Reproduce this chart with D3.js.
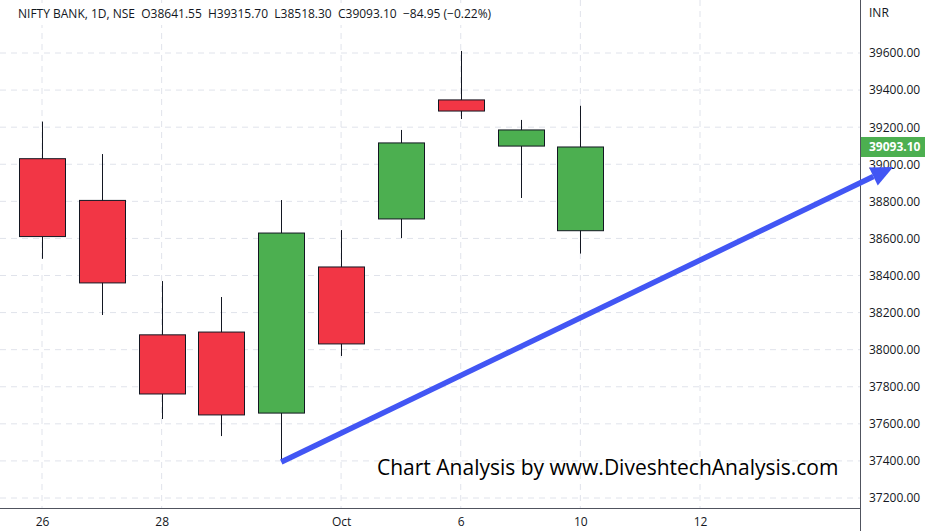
<!DOCTYPE html>
<html>
<head>
<meta charset="utf-8">
<script src="https://cdn.jsdelivr.net/npm/d3@7"></script>
<style>
  body { margin: 0; background: #fff; font-family: "Open Sans", Roboto, sans-serif; }
  svg text { font-family: "Open Sans", Roboto, sans-serif; }
</style>
</head>
<body>
<svg id="chart" width="938" height="531"></svg>
<script>
// candle data (index 0 = 26 Sep; Oct 5 skipped, so indexes are trading days)
var idx    = [0, 1, 2, 3, 4, 5, 6, 7, 8, 9];
var opens  = [39030, 38805, 38080, 38095, 37658, 38446, 38705, 39347, 39098, 38641.55];
var highs  = [39230, 39055, 38370, 38284, 38807, 38645, 39185, 39611, 39239, 39315.70];
var lows   = [38490, 38187, 37626, 37534, 37405, 37966, 38602, 39244, 38818, 38518.30];
var closes = [38610, 38360, 37761, 37648, 38629, 38031, 39115, 39287, 39185, 39093.10];

var tickIdx    = [0, 2, 5, 7, 9, 11];
var tickLabels = ["26", "28", "Oct", "6", "10", "12"];
var priceTicks = [37200, 37400, 37600, 37800, 38000, 38200, 38400, 38600, 38800, 39000, 39200, 39400, 39600];

// trend arrow drawn on the chart: [index, price]
var arrowFrom = [4, 37394];
var arrowTo   = [14.23, 38985];

var lastPrice = 39093.10;

var svg = d3.select("#chart");
var plotW = 860, plotH = 508;

var x = d3.scaleLinear().domain([0, 11]).range([42, 700]);
var y = d3.scaleLinear().domain([37200, 39600]).range([498, 53]);

// grid
svg.append("g").selectAll("line").data(priceTicks).join("line")
  .attr("x1", 0).attr("x2", plotW)
  .attr("y1", d => y(d)).attr("y2", d => y(d))
  .attr("stroke", "#e0e3eb").attr("stroke-dasharray", "6,5");
svg.append("g").selectAll("line").data(tickIdx).join("line")
  .attr("x1", d => x(d)).attr("x2", d => x(d))
  .attr("y1", 0).attr("y2", plotH)
  .attr("stroke", "#e0e3eb").attr("stroke-dasharray", "6,5");

// axes lines
svg.append("line").attr("x1", plotW + 0.5).attr("x2", plotW + 0.5).attr("y1", 0).attr("y2", 531)
  .attr("stroke", "#50535e");
svg.append("line").attr("x1", 0).attr("x2", plotW).attr("y1", plotH + 0.5).attr("y2", plotH + 0.5)
  .attr("stroke", "#50535e");

// price labels
var ya = svg.append("g").attr("transform", "translate(" + plotW + ",0)")
  .call(d3.axisRight(y).tickValues(priceTicks).tickFormat(d3.format(".2f")).tickSize(0).tickPadding(9));
ya.select(".domain").remove();
ya.selectAll("text").attr("fill", "#131722").attr("font-size", 12);
svg.append("text").attr("x", 869).attr("y", 17).text("INR").attr("font-size", 12).attr("fill", "#131722");

// date labels
var xa = svg.append("g").attr("transform", "translate(0," + plotH + ")")
  .call(d3.axisBottom(x).tickValues(tickIdx).tickFormat((d, i) => tickLabels[i]).tickSize(0).tickPadding(9));
xa.select(".domain").remove();
xa.selectAll("text").attr("fill", "#131722").attr("font-size", 12);

// candles
var bw = 46;
var cg = svg.append("g").selectAll("g").data(idx).join("g");
cg.append("line")
  .attr("x1", i => Math.round(x(i)) + 0.5).attr("x2", i => Math.round(x(i)) + 0.5)
  .attr("y1", i => y(highs[i])).attr("y2", i => y(lows[i]))
  .attr("stroke", "#131722");
cg.append("rect")
  .attr("x", i => Math.round(x(i) - bw / 2) + 0.5)
  .attr("y", i => y(Math.max(opens[i], closes[i])))
  .attr("width", bw)
  .attr("height", i => Math.max(1, y(Math.min(opens[i], closes[i])) - y(Math.max(opens[i], closes[i]))))
  .attr("fill", i => closes[i] >= opens[i] ? "#4caf50" : "#f23645")
  .attr("stroke", "#131722");

// trend arrow
var ax1 = x(arrowFrom[0]), ay1 = y(arrowFrom[1]), ax2 = x(arrowTo[0]), ay2 = y(arrowTo[1]);
var ang = Math.atan2(ay2 - ay1, ax2 - ax1);
var hl = 22, hw = 10;
var bx = ax2 - hl * Math.cos(ang), by = ay2 - hl * Math.sin(ang);
svg.append("line").attr("x1", ax1).attr("y1", ay1).attr("x2", bx).attr("y2", by)
  .attr("stroke", "#4256f4").attr("stroke-width", 5.5);
svg.append("path")
  .attr("d", "M" + ax2 + "," + ay2 +
    "L" + (bx + hw * Math.sin(ang)) + "," + (by - hw * Math.cos(ang)) +
    "L" + (bx - hw * Math.sin(ang)) + "," + (by + hw * Math.cos(ang)) + "Z")
  .attr("fill", "#4256f4");

// header
svg.append("rect").attr("x", 0).attr("y", 3).attr("width", 478).attr("height", 22).attr("fill", "#fff");
svg.append("text").attr("x", 18).attr("y", 18).attr("font-size", 12).attr("fill", "#131722")
  .text("NIFTY BANK, 1D, NSE  O38641.55  H39315.70  L38518.30  C39093.10  \u221284.95 (\u22120.22%)")
  .attr("xml:space", "preserve").style("white-space", "pre");

// last price tag
svg.append("rect").attr("x", plotW + 1).attr("y", y(lastPrice) - 10).attr("width", 64).attr("height", 20)
  .attr("fill", "#4caf50");
svg.append("text").attr("x", plotW + 9).attr("y", y(lastPrice) + 4.5).attr("font-size", 12)
  .attr("font-weight", "bold").attr("fill", "#fff").text(d3.format(".2f")(lastPrice));

// watermark
svg.append("text").attr("x", 377).attr("y", 475).attr("font-size", 21).attr("fill", "#000")
  .text("Chart Analysis by www.DiveshtechAnalysis.com");
</script>
</body>
</html>
